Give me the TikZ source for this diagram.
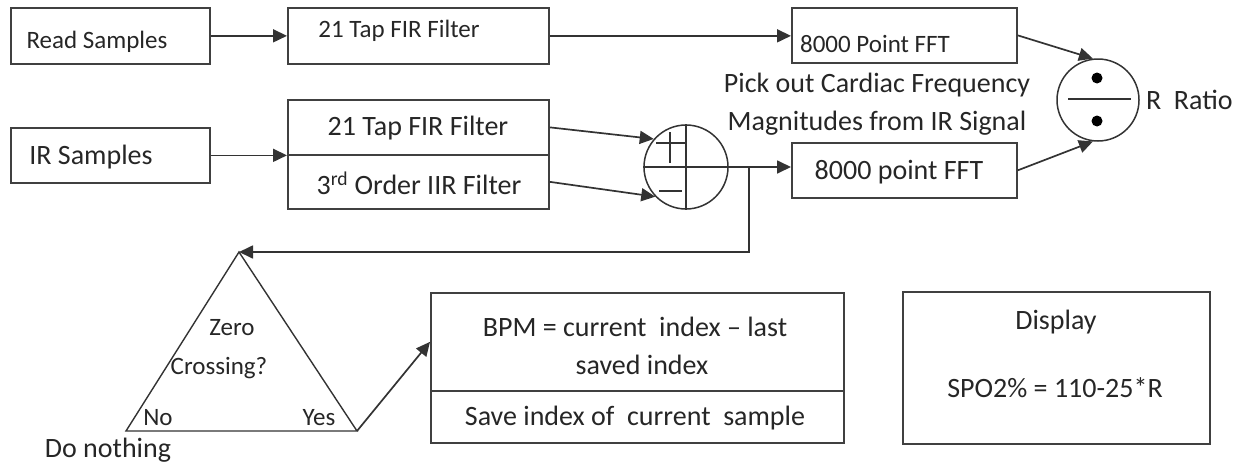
\documentclass[tikz,border=0pt]{standalone}
\usepackage{fontspec}
\setmainfont{Carlito}
\usetikzlibrary{arrows.meta}
\begin{document}
\begin{tikzpicture}[x=1pt,y=-1pt,
  box/.style={draw=black!75, line width=1.7pt, inner sep=0pt, anchor=north west},
  conn/.style={draw=black!80, line width=1.7pt},
  arr/.style={conn, -{Triangle[length=14pt,width=13pt]}},
  txt/.style={inner sep=0pt, text=black!85, font=\fontsize{25}{30}\selectfont},
  big/.style={txt, font=\fontsize{28}{34}\selectfont},
  ring/.style={circle, draw=black!80, line width=1.5pt, inner sep=0pt}]
\useasboundingbox (0,0) rectangle (1238,466);

% --- red channel ---
\node[box, minimum width=199pt, minimum height=56pt] (read) at (10,7) {};
\node[txt] (readtxt) at (97,42) {Read Samples};
\node[box, minimum width=261pt, minimum height=56pt] (fir1) at (287,7) {};
\node[txt] (fir1txt) at (399,31) {21 Tap FIR Filter};
\node[box, minimum width=225pt, minimum height=55pt] (fft1) at (791,7) {};
\node[txt] (fft1txt) at (875,44) {8000 Point FFT};

% --- IR channel ---
\node[box, minimum width=199pt, minimum height=55pt] (ir) at (10,127) {};
\node[big] (irtxt) at (91,157) {IR Samples};
\node[box, minimum width=261pt, minimum height=55pt] (irfa) at (287,99) {};
\node[box, minimum width=261pt, minimum height=54pt] (irfb) at (287,154) {};
\node[big] (irfatxt) at (418,128) {21 Tap FIR Filter};
\node[big] (irfbtxt) at (419,183) {3\textsuperscript{rd} Order IIR Filter};
\node[box, minimum width=225pt, minimum height=55pt] (fft2) at (791,142) {};
\node[big] (fft2txt) at (899,172) {8000 point FFT};

% --- summing junction ---
\node[ring, minimum size=84pt] (sum) at (686,167) {};
\draw[conn, line width=1.5pt] (sum.west) -- (sum.east);
\draw[conn, line width=1.5pt] (sum.north) -- (sum.south);
\draw[conn, line width=1.5pt] (656,143) -- (686,143);
\draw[conn, line width=1.5pt] (670,132) -- (670,163);
\draw[conn, line width=1.5pt] (659,191) -- (682,191);

% --- ratio block ---
\node[ring, minimum size=82pt] (rc) at (1098,100) {};
\fill[black] (1097,78) circle (5.5pt);
\fill[black] (1097,121) circle (5.5pt);
\draw[conn, line width=1.5pt] (1068,99) -- (1131,99);
\node[big, anchor=west] (rtxt) at (1146,100) {R\hspace{0.45em}Ratio};

\node[big] (pick1) at (877,85) {Pick out Cardiac Frequency};
\node[big] (pick2) at (877,123) {Magnitudes from IR Signal};

% --- zero crossing test ---
\coordinate (apex) at (239,252);
\coordinate (tl) at (126,431);
\coordinate (tr) at (357,431);
\draw[conn, line width=1.4pt] (apex) -- (tl) -- (tr) -- cycle;
\node[txt] (zero) at (232,328) {Zero};
\node[txt] (cross) at (219,368) {Crossing?};
\node[txt] (no) at (158,418) {No};
\node[txt] (yes) at (319,418) {Yes};
\node[big] (nothing) at (108,450) {Do nothing};

% --- beat timing ---
\node[box, minimum width=413pt, minimum height=98pt] (bpma) at (430,292) {};
\node[box, minimum width=413pt, minimum height=52pt] (bpmb) at (430,390) {};
\node[big] (bpm1) at (635,327) {BPM = current\ \ index -- last};
\node[big] (bpm2) at (642,365) {saved index};
\node[big] (bpm3) at (635,418) {Save index of\ \ current\ \ sample};

% --- output ---
\node[box, minimum width=307pt, minimum height=152pt] (disp) at (902,291) {};
\node[big] (disp1) at (1056,322) {Display};
\node[big] (disp2) at (1055,388) {SPO2\% = 110-25*R};

% --- connectors ---
\draw[arr] (read.east) -- (fir1.west);
\draw[arr] (fir1.east) -- (fir1.east -| fft1.west);
\draw[arr] (ir.east) -- (ir.east -| irfa.west);
\draw[arr] (irfa.east) -- (sum.139);
\draw[arr] (irfb.east) -- (sum.224);
\draw[arr] (sum.east) -- (sum.east -| fft2.west);
\coordinate (tap) at (749,167);
\draw[arr] (tap) -- (749,252) -- (apex);
\draw[arr] (fft1.east) -- (rc.97);
\draw[arr] (fft2.east) -- (rc.263);
\draw[arr] (tr) -- (bpma.west);
\end{tikzpicture}
\end{document}
